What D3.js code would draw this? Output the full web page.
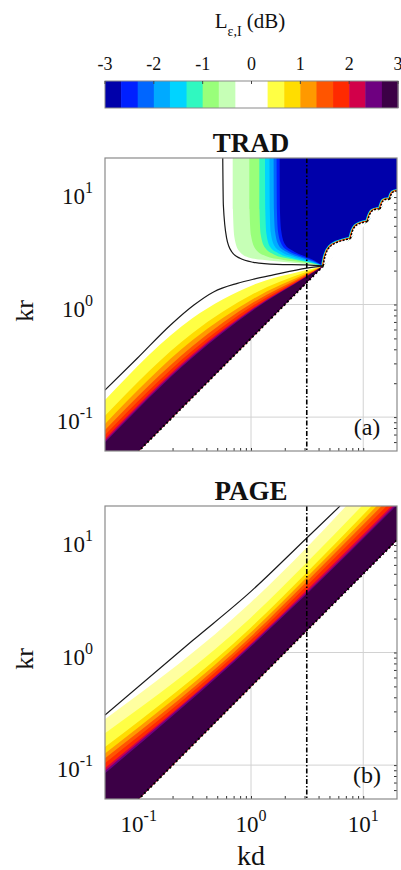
<!DOCTYPE html>
<html>
<head>
<meta charset="utf-8">
<script src="https://cdn.jsdelivr.net/npm/d3@7"></script>
<style>
  body { margin: 0; background: #fff; }
  svg text { font-family: "Liberation Serif", "Times New Roman", serif; fill: #111; }
</style>
</head>
<body>
<svg id="chart" width="401" height="870"></svg>
<script>
//================= colour levels (dB) =================
var levels = [-3, -2.67, -2.33, -2, -1.67, -1.33, -1, -0.67, -0.33, 0,
              0.33, 0.67, 1, 1.33, 1.67, 2, 2.33, 2.67, 3];
var binColors = ["#0000aa", "#0020ff", "#0066ff", "#00aaff", "#00d4ff", "#30f8c0",
                 "#99ff7a", "#c6ffb6", "#ffffff", "#ffffff", "#ffff44", "#ffdd00",
                 "#ff9900", "#ff5500", "#ff2a00", "#d2004a", "#6e0080", "#3c0046"];
var barTicks = [-3, -2, -1, 0, 1, 2, 3];

//================= axes =================
var kdRange = [0.05, 20];
var krRange = [0.05, 20];
var decadeTicks = [0.1, 1, 10];
var kdMark = 3.14;                               // dash-dot line
var edgeLine = [[0.01, 0.005], [200, 100]];      // kr = kd/2, no data below

//================= TRAD (a) =================
var tradBlackLow = [[0.05, 0.174], [0.097, 0.333], [0.192, 0.658], [0.31, 0.99], [0.468, 1.30],
                    [0.755, 1.54], [1.06, 1.68], [1.58, 1.83], [3.14, 2.10], [4.4, 2.2]];
var tradBlackUp = [[0.56, 20], [0.567, 7.65], [0.607, 3.87], [0.673, 2.94], [0.798, 2.57],
                   [1.05, 2.37], [1.69, 2.27], [3.14, 2.25], [4.4, 2.2]];
// positive levels 0.33 ... 2.67, kr read at these kd
var tradKd = [0.05, 0.3, 1.06, 3.14, 4.4];
var tradPos = [
  [0.142, 0.754, 1.50, 2.03, 2.2],
  [0.103, 0.555, 1.25, 1.95, 2.2],
  [0.087, 0.481, 1.13, 1.89, 2.2],
  [0.077, 0.426, 1.05, 1.85, 2.2],
  [0.0695, 0.388, 0.99, 1.81, 2.2],
  [0.064, 0.361, 0.94, 1.79, 2.2],
  [0.0615, 0.347, 0.92, 1.78, 2.2],
  [0.0596, 0.337, 0.90, 1.77, 2.2]
];
// negative levels -0.33 ... -2.67
var tradNeg = [
  [[0.687, 20], [0.69, 7], [0.71, 4.0], [0.78, 3.0], [0.95, 2.62], [1.5, 2.45], [2.6, 2.33], [4.4, 2.2]],
  [[0.966, 20], [0.97, 7], [1.0, 4.1], [1.1, 3.1], [1.35, 2.7], [1.9, 2.5], [3.0, 2.35], [4.4, 2.2]],
  [[1.186, 20], [1.19, 7], [1.22, 4.2], [1.33, 3.2], [1.6, 2.78], [2.2, 2.55], [3.2, 2.37], [4.4, 2.2]],
  [[1.333, 20], [1.34, 7], [1.37, 4.3], [1.48, 3.25], [1.75, 2.85], [2.35, 2.58], [3.3, 2.39], [4.4, 2.2]],
  [[1.46, 20], [1.47, 7], [1.5, 4.35], [1.62, 3.3], [1.9, 2.9], [2.5, 2.62], [3.4, 2.4], [4.4, 2.2]],
  [[1.59, 20], [1.6, 7], [1.64, 4.4], [1.77, 3.35], [2.05, 2.95], [2.65, 2.65], [3.5, 2.42], [4.4, 2.2]],
  [[1.69, 20], [1.7, 7], [1.74, 4.45], [1.88, 3.4], [2.15, 3.0], [2.75, 2.7], [3.6, 2.43], [4.4, 2.2]],
  [[1.80, 20], [1.81, 7], [1.86, 4.5], [2.0, 3.45], [2.3, 3.05], [2.9, 2.72], [3.7, 2.45], [4.4, 2.2]]
];
var tradCusps = [[4.4, 2.2], [7.7, 3.85], [10.9, 5.45], [14.1, 7.05], [17.2, 8.6], [20.4, 10.2]];
var tradPeaks = [[5.06, 3.26], [8.5, 4.96], [11.9, 6.72], [15.1, 8.37], [18.2, 9.87]];

//================= PAGE (b) =================
var pageBlack = [[0.05, 0.279], [0.3, 1.27], [1, 3.49], [3.14, 10.4], [6.22, 20]];
var pagePos = [
  [[0.05, 0.255], [1, 2.79], [3.14, 8.58], [7.03, 20]],
  [[0.05, 0.192], [1, 2.05], [3.14, 6.31], [9.71, 20]],
  [[0.05, 0.145], [1, 1.67], [3.14, 5.14], [11.9, 20]],
  [[0.05, 0.127], [1, 1.51], [3.14, 4.65], [13.2, 20]],
  [[0.05, 0.115], [1, 1.39], [3.14, 4.28], [14.6, 20]],
  [[0.05, 0.104], [1, 1.29], [3.14, 3.92], [16.2, 20]],
  [[0.05, 0.094], [1, 1.20], [3.14, 3.59], [17.9, 20]],
  [[0.05, 0.089], [1, 1.17], [3.14, 3.42], [18.8, 20]],
  [[0.05, 0.0846], [1, 1.13], [3.14, 3.31], [19.6, 20]]
];
var pageColors = ["#ffffa0"].concat(binColors.slice(10));

//================= layout =================
var left = 105, right = 397, side = 293;
var svg = d3.select("#chart");
var x = d3.scaleLog().domain(kdRange).range([left, right]);

function linePath(pts, y, curve) {
  return d3.line()
    .x(function(d) { return x(d[0]); })
    .y(function(d) { return y(d[1]); })
    .curve(curve || d3.curveLinear)(pts);
}
function regionPath(curvePts, closePts, y) {
  return linePath(curvePts, y, d3.curveMonotoneX) + linePath(closePts, y).replace("M", "L") + "Z";
}
function powLabel(sel, v, size, supSize, rise) {
  sel.append("tspan").style("font-size", size + "px").text("10");
  sel.append("tspan").style("font-size", supSize + "px").attr("dy", -rise)
     .text(String(Math.round(Math.log10(v))));
}

//================= colorbar =================
var cb = d3.scaleLinear().domain([-3, 3]).range([105, 398]);
var cbTop = 81, cbH = 27;
svg.append("g").selectAll("rect")
  .data(binColors)
  .enter().append("rect")
  .attr("x", function(d, i) { return cb(levels[i]); })
  .attr("y", cbTop)
  .attr("width", function(d, i) { return cb(levels[i + 1]) - cb(levels[i]) + 0.5; })
  .attr("height", cbH)
  .attr("fill", function(d) { return d; });
svg.append("rect").attr("x", cb(-3)).attr("y", cbTop).attr("width", cb(3) - cb(-3)).attr("height", cbH)
  .attr("fill", "none").attr("stroke", "#8a8a8a").attr("stroke-width", 1);
svg.append("g").selectAll("line").data(barTicks).enter().append("line")
  .attr("x1", function(d) { return cb(d); }).attr("x2", function(d) { return cb(d); })
  .attr("y1", cbTop).attr("y2", cbTop + 3)
  .attr("stroke", "#444").attr("stroke-width", 1);
svg.append("g").selectAll("text").data(barTicks).enter().append("text")
  .attr("x", function(d) { return cb(d); })
  .attr("y", 70)
  .attr("text-anchor", "middle")
  .style("font-size", "18px")
  .text(function(d) { return d; });
var cbTitle = svg.append("text").attr("x", 250).attr("y", 28).attr("text-anchor", "middle");
cbTitle.append("tspan").style("font-size", "21px").text("L");
cbTitle.append("tspan").style("font-size", "14px").attr("dy", 8).text("\u03b5,I");
cbTitle.append("tspan").style("font-size", "21px").attr("dy", -8).text(" (dB)");

//================= panels =================
function drawPanel(p) {
  var top = p.top, bottom = top + side;
  var y = d3.scaleLog().domain(krRange).range([bottom, top]);
  var clipId = "clip-" + p.key;
  var defs = svg.append("defs");
  defs.append("clipPath").attr("id", clipId).append("rect")
    .attr("x", left).attr("y", top).attr("width", right - left).attr("height", side);
  defs.append("clipPath").attr("id", "valid-" + p.key).append("path")
    .attr("d", linePath([edgeLine[0], edgeLine[1], [0.01, 100]], y) + "Z");

  var g = svg.append("g").attr("clip-path", "url(#" + clipId + ")");

  // grid + ticks (below the filled contours)
  g.append("g").selectAll("line.gx").data(decadeTicks).enter().append("line")
    .attr("x1", function(d) { return x(d); }).attr("x2", function(d) { return x(d); })
    .attr("y1", top).attr("y2", bottom)
    .attr("stroke", "#d2d2d2").attr("stroke-width", 1);
  g.append("g").selectAll("line.gy").data(decadeTicks).enter().append("line")
    .attr("y1", function(d) { return y(d); }).attr("y2", function(d) { return y(d); })
    .attr("x1", left).attr("x2", right)
    .attr("stroke", "#d2d2d2").attr("stroke-width", 1);
  var tk = g.append("g").attr("color", "#333");
  tk.append("g").attr("transform", "translate(0," + bottom + ")")
    .call(d3.axisBottom(x).tickValues(x.ticks()).tickSize(-3).tickFormat(""));
  tk.append("g").attr("transform", "translate(0," + top + ")")
    .call(d3.axisTop(x).tickValues(x.ticks()).tickSize(-3).tickFormat(""));
  tk.append("g").attr("transform", "translate(" + left + ",0)")
    .call(d3.axisLeft(y).tickValues(y.ticks()).tickSize(-3).tickFormat(""));
  tk.append("g").attr("transform", "translate(" + right + ",0)")
    .call(d3.axisRight(y).tickValues(y.ticks()).tickSize(-3).tickFormat(""));
  tk.selectAll(".domain").remove();

  // valid region (white) hides grid
  g.append("path").attr("d", linePath([edgeLine[0], edgeLine[1], [0.01, 100]], y) + "Z")
    .attr("fill", "#fff");

  // positive bands, drawn from outer to inner
  p.pos.forEach(function(pts, i) {
    g.append("path")
      .attr("d", regionPath(pts, [edgeLine[1], edgeLine[0], [0.01, pts[0][1]]], y))
      .attr("fill", p.posColors[i]);
  });
  // negative bands
  (p.neg || []).forEach(function(pts, i) {
    g.append("path")
      .attr("d", regionPath(pts, [edgeLine[1], [pts[0][0], 100]], y))
      .attr("fill", p.negColors[i]);
  });

  // scalloped edge with thin rainbow rims
  var edgeG = g.append("g");
  if (p.cusps) {
    // hide the anti-aliased blue seam along the straight edge
    g.append("path").attr("d", linePath([p.cusps[0], edgeLine[1]], y))
      .attr("fill", "none").attr("stroke", "#fff").attr("stroke-width", 1.6);
    var lobeG = g.append("g").attr("clip-path", "url(#valid-" + p.key + ")");
    p.cusps.slice(0, -1).forEach(function(c, i) {
      var d = linePath([c, p.peaks[i], p.cusps[i + 1]], y, d3.curveNatural);
      [["#00d4ff", 4.2], ["#ffdd00", 2.8], ["#ff2a00", 2.0]].forEach(function(s) {
        lobeG.append("path").attr("d", d).attr("fill", "none")
          .attr("stroke", s[0]).attr("stroke-width", s[1]);
      });
      lobeG.append("path").attr("d", d + "Z").attr("fill", "#fff");
      edgeG.append("path").attr("d", d).attr("fill", "none")
        .attr("stroke", "#000").attr("stroke-width", 1.5).attr("stroke-dasharray", "2,1.5");
    });
    edgeG.append("path").attr("d", linePath([edgeLine[0], p.cusps[0]], y))
      .attr("fill", "none").attr("stroke", "#000").attr("stroke-width", 2).attr("stroke-dasharray", "2,2.5");
    edgeG.raise();
  } else {
    edgeG.append("path").attr("d", linePath(edgeLine, y))
      .attr("fill", "none").attr("stroke", "#000").attr("stroke-width", 2).attr("stroke-dasharray", "2,2.5");
  }

  // black contour lines
  p.black.forEach(function(pts) {
    g.append("path").attr("d", linePath(pts, y, d3.curveMonotoneX))
      .attr("fill", "none").attr("stroke", "#1a1a1a").attr("stroke-width", 1.2);
  });

  // dash-dot line
  g.append("line").attr("x1", x(kdMark)).attr("x2", x(kdMark)).attr("y1", top).attr("y2", bottom)
    .attr("stroke", "#000").attr("stroke-width", 1.6).attr("stroke-dasharray", "5,2,1.5,2");

  // frame
  svg.append("rect").attr("x", left).attr("y", top).attr("width", right - left).attr("height", side)
    .attr("fill", "none").attr("stroke", "#8a8a8a").attr("stroke-width", 1.2);

  // y tick labels
  decadeTicks.forEach(function(v) {
    var t = svg.append("text").attr("x", 93).attr("y", y(v) + 12).attr("text-anchor", "end");
    powLabel(t, v, 23, 16, 11);
  });
  if (p.xLabels) {
    decadeTicks.forEach(function(v) {
      var t = svg.append("text").attr("x", x(v)).attr("y", bottom + 33).attr("text-anchor", "middle");
      powLabel(t, v, 23, 16, 11);
    });
    svg.append("text").attr("x", 251).attr("y", 865).attr("text-anchor", "middle")
      .style("font-size", "28px").text("kd");
  }
  svg.append("text")
    .attr("transform", "translate(33," + (top + 153) + ") rotate(-90)")
    .attr("text-anchor", "middle").style("font-size", "26px").text("kr");
  svg.append("text").attr("x", 251).attr("y", top - 6.5).attr("text-anchor", "middle")
    .style("font-size", "27px").style("font-weight", "bold").text(p.title);
  svg.append("text").attr("x", 367).attr("y", bottom - 16).attr("text-anchor", "middle")
    .style("font-size", "24px").text(p.tag);
}

drawPanel({
  key: "trad", top: 158, title: "TRAD", tag: "(a)",
  pos: tradPos.map(function(row) { return row.map(function(kr, j) { return [tradKd[j], kr]; }); }),
  posColors: binColors.slice(10),
  neg: tradNeg,
  negColors: binColors.slice(0, 8).reverse(),
  black: [tradBlackLow, tradBlackUp],
  cusps: tradCusps, peaks: tradPeaks,
  xLabels: false
});
drawPanel({
  key: "page", top: 506, title: "PAGE", tag: "(b)",
  pos: pagePos, posColors: pageColors,
  black: [pageBlack],
  xLabels: true
});
</script>
</body>
</html>
